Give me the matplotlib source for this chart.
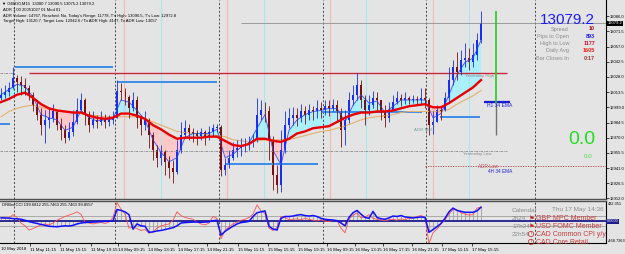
import numpy as np
import matplotlib.pyplot as plt

plt.rcParams['font.family'] = ['Liberation Sans', 'DejaVu Sans']

W, H = 625, 254

# GER30 M15 candles (one candle every two bars)
first_open = 13008
closes = [13011, 13014, 13017, 13027, 13023, 13020, 13017, 13011, 13001, 12992,
          12982, 12987, 12989, 12995, 12982, 12977, 12970, 12975, 12985, 12996,
          13006, 12992, 12982, 12987, 12985, 12989, 12985, 12987, 12989, 13015,
          13014, 13009, 12998, 13006, 12989, 12982, 12987, 12973, 12958, 12951,
          12956, 12947, 12941, 12937, 12958, 12973, 12979, 12975, 12974, 12972,
          12975, 12971, 12975, 12979, 12980, 12939, 12944, 12951, 12958, 12960,
          12963, 12964, 12966, 12968, 12992, 12996, 12995, 12968, 12934, 12925,
          12958, 12982, 12989, 12992, 12989, 12995, 12992, 12996, 12995, 12998,
          12996, 13000, 12998, 13001, 12995, 12977, 12987, 13006, 13011, 13020,
          13006, 12996, 13001, 13008, 13006, 12995, 12989, 12996, 13004, 13008,
          13006, 13008, 13006, 13007, 13006, 13008, 13006, 12982, 12985, 12996,
          12995, 13008, 13025, 13037, 13033, 13044, 13046, 13042, 13049, 13063,
          13079.2]
highs = [13017, 13020, 13023, 13037, 13030, 13029, 13027, 13020, 13014, 13006,
         12998, 12996, 12998, 13002, 12996, 12989, 12982, 12985, 12996, 13008,
         13013, 13008, 12995, 12995, 12992, 12995, 12993, 12992, 12995, 13025,
         13022, 13017, 13011, 13014, 13010, 12992, 12995, 12989, 12975, 12963,
         12963, 12958, 12953, 12949, 12968, 12985, 12987, 12983, 12979, 12977,
         12979, 12977, 12981, 12983, 12983, 12982, 12951, 12958, 12966, 12968,
         12970, 12970, 12972, 12974, 13008, 13006, 13004, 13000, 12972, 12944,
         12977, 12995, 12998, 12999, 12998, 13002, 13000, 13002, 13000, 13006,
         13004, 13006, 13006, 13007, 13006, 12998, 12996, 13014, 13020, 13032,
         13025, 13011, 13011, 13015, 13014, 13006, 13001, 13004, 13011, 13015,
         13012, 13014, 13010, 13011, 13010, 13017, 13017, 13008, 12995, 13001,
         13000, 13014, 13037, 13044, 13052, 13054, 13060, 13056, 13060, 13070,
         13090.5]
lows = [13006, 13008, 13010, 13016, 13014, 13011, 13011, 13006, 12995, 12987,
        12973, 12965, 12979, 12985, 12977, 12968, 12965, 12968, 12972, 12983,
        12995, 12982, 12975, 12979, 12979, 12982, 12979, 12981, 12983, 12989,
        13006, 13001, 12989, 12995, 12979, 12973, 12977, 12960, 12949, 12942,
        12944, 12934, 12932, 12927, 12935, 12955, 12970, 12968, 12966, 12963,
        12968, 12963, 12968, 12972, 12975, 12933, 12934, 12941, 12949, 12952,
        12953, 12956, 12958, 12961, 12966, 12987, 12985, 12949, 12920, 12917,
        12918, 12955, 12979, 12982, 12981, 12985, 12983, 12987, 12987, 12989,
        12989, 12992, 12991, 12995, 12985, 12961, 12963, 12984, 13001, 13006,
        12998, 12982, 12992, 12998, 12995, 12987, 12980, 12985, 12996, 13002,
        13000, 13002, 13002, 13003, 13002, 13002, 12998, 12972.8, 12974, 12985,
        12987, 12995, 13004, 13020, 13025, 13030, 13037, 13035, 13037, 13044,
        13060]

# moving averages, one value every second candle
ema_fast = [13011, 13016, 13021, 13019, 13009, 12992, 12989, 12987, 12977, 12980,
            12996, 12989, 12986, 12987, 12988, 13006, 13004, 12996, 12987, 12968,
            12956, 12947, 12951, 12970, 12974, 12974, 12974, 12978, 12951, 12954,
            12961, 12965, 12979, 12992, 12958, 12944, 12977, 12987, 12992, 12995,
            12996, 12998, 12998, 12985, 13001, 13011, 13003, 13005, 12994, 13000,
            13006, 13006, 13006, 13006, 12989, 12993, 13011, 13030, 13042, 13046,
            13063]
ema_red = [13004, 13007, 13011, 13013, 13008, 13002, 12998, 12996, 12995, 12994,
           12994, 12991, 12989, 12988, 12989, 12993, 12993, 12991, 12988, 12982,
           12978, 12973, 12969, 12970, 12970, 12970, 12971, 12971, 12967, 12963,
           12962, 12964, 12969, 12969, 12967, 12966, 12969, 12974, 12976, 12979,
           12980, 12981, 12985, 12989, 12992, 12994, 12994, 12995, 12995, 12996,
           12998, 13000, 13001, 13002, 12999, 12999, 13003, 13008, 13013, 13018,
           13025]
ema_tan = [12990, 12995, 12998, 13000, 13001, 12999, 12997, 12995, 12995, 12994,
           12993, 12992, 12991, 12990, 12990, 12990, 12990, 12990, 12988, 12985,
           12982, 12979, 12976, 12975, 12974, 12974, 12973, 12972, 12971, 12968,
           12967, 12966, 12967, 12968, 12968, 12968, 12968, 12970, 12972, 12974,
           12976, 12977, 12979, 12981, 12984, 12987, 12989, 12990, 12991, 12992,
           12994, 12995, 12995, 12995, 12995, 12995, 12997, 13002, 13006, 13010,
           13015]

# DRBeeCCI sub window
cci_slow = [70, 70, 65, 55, 50, 40, 20, -10, -30, -50,
            -70, -90, -110, -115, -120, -110, -100, -105, -90, -60,
            -40, -30, -25, -20, -15, -10, -5, 0, 5, 250,
            230, 200, 140, -170, -60, -100, -110, -240, -230, -210,
            -200, -180, -160, -140, -100, -40, -30, -25, -20, -20,
            -25, -20, -15, 10, 20, -300, -220, -160, -110, -60,
            -30, -20, -5, 100, 180, 200, 220, -110, -170, -190,
            60, 100, 100, 110, 130, 140, 120, 110, 120, 100,
            60, 40, 30, 25, 10, -40, -100, 80, 180, 230,
            150, 80, 60, 210, 80, 50, 40, 70, 110, 100,
            120, 90, 80, 70, 80, 90, 80, -240, -180, -120,
            -50, 60, 200, 280, 230, 210, 190, 190, 190, 220,
            300]
cci_fast = [80, 60, 70, 140, 80, -40, -100, -190, -160, -120,
            -80, -60, -80, -40, 20, 60, 100, 130, 160, 200,
            150, -20, -40, -60, -40, -30, -50, -20, 80, 400,
            260, 150, -150, -130, -160, -200, -180, -260, -230, -150,
            -100, -80, -60, 20, 200, 120, 80, 60, 40, -20,
            -60, -80, -40, 100, 60, -380, -200, -120, -60, -20,
            20, 40, 80, 150, 350, 220, 160, -150, -200, -140,
            100, 80, 30, 40, 50, 30, 60, 40, 20, 0,
            30, 0, -10, 20, 10, -150, -250, 50, 120, 180,
            70, 90, 140, 60, 40, 20, 10, 30, 40, 20,
            50, 30, 60, 70, 100, 120, 80, -480, -250, -170,
            -60, 30, 150, 250, 240, 180, 150, 130, 140, 280,
            300]

price_ticks = [13086.0, 13071.5, 13057.0, 13042.5, 13028.0, 13013.5, 12999.0,
               12984.5, 12970.0, 12955.5, 12941.0, 12926.5, 12912.0]
time_labels = ["11 May 11:15", "11 May 15:15", "11 May 19:15", "14 May 09:15",
               "14 May 13:15", "14 May 17:15", "14 May 21:15", "15 May 11:15",
               "15 May 15:15", "15 May 19:15", "16 May 09:15", "16 May 13:15",
               "16 May 17:15", "16 May 21:15", "17 May 11:15", "17 May 15:15"]
time_pos = [7.25, 14.75, 22.5, 29.25, 36.75, 44.25, 51.5, 59.25,
            66.75, 74.25, 81.5, 88.5, 95.5, 102.75, 110.25, 117.75]
day_breaks = [3.3, 28.6, 54.6, 80.4, 106.3, 133.5]
london_open = [30.75, 56.5, 82.25, 108.0]
ny_open = [40.0, 65.75, 91.25, 117.0]

yesterday_high = 13031.7
yesterday_low = 12957.0
target_low = 12942.6
last_price = 13079.2
day_high = 13090.5
adr_mid = 13003.0
day_low = 12972.8
h1_ema = 13004.0
# support / resistance segments: price, first candle, last candle
blue_levels = [(13037.4, 3.5, 28.0), (13023.1, 29.0, 54.0), (12983.0, -0.3, 2.3),
               (12945.0, 56.0, 79.3), (12994.5, 80.3, 105.3), (12990.0, 109.8, 119.8)]

BG = '#e4e4e4'
BULL = '#1530f0'
BEAR = '#7c1010'

fig = plt.figure(figsize=(W / 100, H / 100), dpi=100, facecolor=BG)
ax = fig.add_axes([0, 55 / H, 606 / W, 199 / H], facecolor=BG)
axi = fig.add_axes([0, 11 / H, 606 / W, 42 / H], facecolor=BG)

x = np.arange(len(closes))
c = np.array(closes)
o = np.array([first_open] + closes[:-1])
xe = x[::2]

# session lines
for d in day_breaks:
    ax.axvline(d, color='#444444', lw=0.7, ls=(0, (2, 2)))
    axi.axvline(d, color='#444444', lw=0.7, ls=(0, (2, 2)))
for d in london_open:
    ax.axvline(d, color='#f4b8b8', lw=0.8)
for d in ny_open:
    ax.axvline(d, color='#a8e6f2', lw=0.8)

# EMA ribbon
fast_a = np.array(ema_fast)
red_a = np.array(ema_red)
ax.fill_between(xe, fast_a, red_a, where=fast_a >= red_a, interpolate=True,
                color='#aaf0ff', lw=0)
ax.fill_between(xe, fast_a, red_a, where=fast_a < red_a, interpolate=True,
                color='#ffc8c8', lw=0)

# levels
ax.hlines(yesterday_high, 7.0, 126.5, color='#c8283c', lw=1.0)
ax.hlines(yesterday_high, -0.3, 3.3, color='#8a8a8a', lw=0.6, ls=(0, (3, 1, 1, 1)))
ax.hlines(yesterday_low, -0.3, 126.5, color='#8a8a8a', lw=0.6, ls=(0, (3, 1, 1, 1)))
ax.hlines(target_low, 106.0, 151.3, color='#b04040', lw=0.6, ls=(0, (1.5, 1.5)))
ax.hlines(last_price, 60, 151.3, color='#909090', lw=0.6)
for lvl, a, b in blue_levels:
    ax.hlines(lvl, a, b, color='#3c8ce6', lw=1.4)
ax.hlines(h1_ema, 120.8, 127.3, color='#1a1ad0', lw=1.6)
ax.vlines(123.7, adr_mid, day_high, color='#22cc22', lw=1.2)
ax.vlines(123.7, day_low, adr_mid, color='#707070', lw=1.0)

ax.plot(xe, ema_tan, color='#e2b070', lw=0.8)
ax.plot(xe, ema_fast, color='#3350ff', lw=0.6)

# candles
up = c >= o
ax.vlines(x, lows, highs, colors=np.where(up, BULL, BEAR), lw=0.6)
ax.bar(x, np.abs(c - o), bottom=np.minimum(o, c), width=0.5,
       color=np.where(up, BULL, BEAR), lw=0)

ax.plot(xe, ema_red, color='#e80000', lw=1.7)

ax.set_xlim(-0.25, 151.25)
ax.set_ylim(12911.5, 13101.4)
axi.set_xlim(-0.25, 151.25)
axi.set_ylim(-468.7363, 432.351)

ax.yaxis.tick_right()
ax.set_yticks(price_ticks)
ax.set_yticklabels([f"{v:.1f}" for v in price_ticks])
ax.tick_params(axis='y', labelsize=3, length=2, pad=1, width=0.5)
ax.set_xticks([])
for s in ['left', 'top']:
    ax.spines[s].set_visible(False)
ax.spines['right'].set_linewidth(0.8)
ax.spines['bottom'].set_color('#505050')
ax.spines['bottom'].set_linewidth(1.0)

ax.text(1.003, last_price, f"{last_price:.1f}", transform=ax.get_yaxis_transform(),
        fontsize=3, color='white', va='center', ha='left',
        bbox=dict(boxstyle='square,pad=0.15', fc='black', ec='none'))

# indicator
axi.vlines(x, 0, cci_slow, color='#8e8e8e', lw=0.5)
axi.axhline(100, color='#a0a0a0', lw=0.6)
axi.axhline(-100, color='#a0a0a0', lw=0.6)
axi.axhline(0, color='#1c1c8c', lw=1.3)
axi.plot(x, cci_fast, color='#ff5050', lw=0.6)
axi.plot(x, cci_slow, color='#1010ff', lw=1.1)
axi.set_yticks([])
axi.set_xticks(time_pos)
axi.set_xticklabels(time_labels)
for t in axi.get_xticklabels():
    t.set_ha('left')
axi.tick_params(axis='x', labelsize=3.2, length=2, pad=1.5, width=0.5)
axi.spines['left'].set_visible(False)
axi.spines['top'].set_color('#505050')
axi.spines['top'].set_linewidth(1.0)
axi.spines['right'].set_linewidth(0.8)
axi.spines['bottom'].set_linewidth(0.8)


def ftext(px, py, s, **kw):
    fig.text(px / W, 1 - py / H, s, **kw)


ftext(1, 249, "10 May 2018", fontsize=3.2, va='center')

# top-left header
ftext(2, 4, "\u25bc GER30,M15  13080.7 13090.5 13075.2 13079.2", fontsize=3, va='center')
ftext(3, 10, "ADR 1.00 20051027 01 Mod 01", fontsize=3, va='center')
ftext(3, 16, "ADR Volume: 14767, Reached: No, Today's Range: 11778, T's High: 13090.5, "
      "T's Low: 12972.8", fontsize=3, va='center')
ftext(3, 21, "Target High: 13120.7, Target Low: 12942.6 / To ADR High: 4147, "
      "To ADR Low: 13057", fontsize=3, va='center')

# info panel
ftext(595, 20, "13079.2", fontsize=11, color='#1a1aff', ha='right', va='center')
info = [("Spread", "10", '#a01818'), ("Pips to Open", "893", '#2020ff'),
        ("High to Low", "1177", '#d01030'), ("Daily Avg", "1605", '#ff2020'),
        ("Bar Closes In", "0:17", '#a03030')]
for k, (lab, val, col) in enumerate(info):
    yy = 29 + k * 7.3
    ftext(569, yy, lab, fontsize=4, color='#8c8c8c', ha='right', va='center')
    ftext(595, yy, val, fontsize=4, color=col, ha='right', va='center', weight='bold')
ftext(595, 139, "0.0", fontsize=14, color='#22dd22', ha='right', va='center')
ftext(592, 157, "0.0", fontsize=4.5, color='#44dd44', ha='right', va='center')

# chart labels
ftext(465, 76, "Yesterday High", fontsize=3.2, color='#8c8c8c', va='center')
ftext(463, 154, "Yesterday Low", fontsize=3.2, color='#8c8c8c', va='center')
ftext(414, 130, "ADR Mid", fontsize=3.2, color='#70a0a0', va='center')
ftext(487, 106, "H1 34 EMA", fontsize=3.6, color='#2020e0', va='center')
ftext(478, 167, "ADR Low", fontsize=3.4, color='#c05050', va='center')
ftext(488, 171.5, "4H 34 EMA", fontsize=3.4, color='#2020e0', va='center')

# indicator labels
ftext(2, 205, "DRBeeCCI 199.6812 255.7463 255.7463 99.8557", fontsize=3, va='center')
ftext(608, 204, "432.351", fontsize=2.8, va='center')
ftext(608, 241, "-468.7363", fontsize=2.8, va='center')
ftext(607, 221.5, "0.0000", fontsize=2.8, color='white', va='center',
      bbox=dict(boxstyle='square,pad=0.15', fc='#1c1c8c', ec='none'))

# calendar
ftext(512, 210, "Calendar", fontsize=4.6, color='#8c8c8c', va='center')
ftext(552, 210, "Thu 17 May 14:36", fontsize=4.6, color='#8c8c8c', va='center')
events = [("2h24", "flag", "GBP MPC Member"), ("17h24", "flag", "USD FOMC Member"),
          ("22h54", "alert", "CAD Common CPI y/y"), ("", "alert", "CAD Core Retail")]
for k, (tm, icon, name) in enumerate(events):
    yy = 218 + k * 8
    ftext(512, yy, tm, fontsize=4.6, color='#8c8c8c', va='center')
    if icon == "flag":
        ftext(529, yy, "\u2691", fontsize=4.6, color='#c02020', va='center')
    else:
        ftext(531, yy, "!", fontsize=3.2, color='#c02020', va='center', ha='center',
              bbox=dict(boxstyle='circle,pad=0.15', fc='none', ec='#c02020', lw=0.5))
    ftext(536, yy, name, fontsize=5, color='#c83c3c', va='center')

fig.savefig("out.png", dpi=100, facecolor=BG)
